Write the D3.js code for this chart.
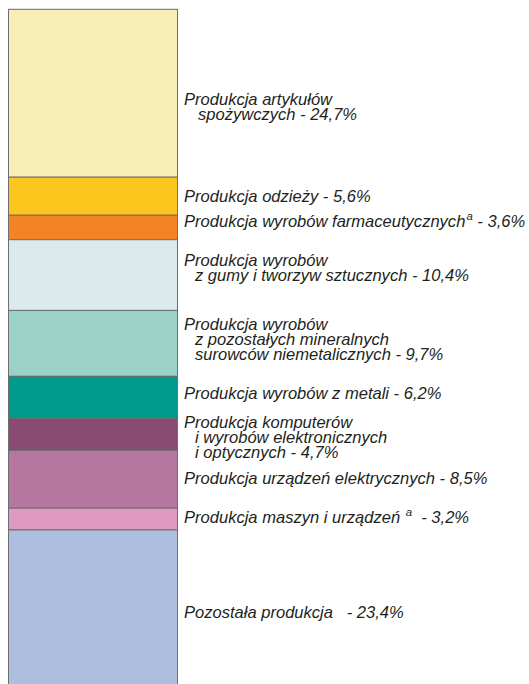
<!DOCTYPE html>
<html>
<head>
<meta charset="utf-8">
<script src="https://cdnjs.cloudflare.com/ajax/libs/d3/7.8.5/d3.min.js"></script>
<style>
  body { margin: 0; background: #fff; }
  svg { display: block; }
  text { font-family: "Liberation Sans", Arial, sans-serif; font-style: italic; fill: #231f20; }
</style>
</head>
<body>
<div id="chart"></div>
<script>
// data
var categories = [
  ["Produkcja artykułów", "  spożywczych - 24,7%"],
  ["Produkcja odzieży - 5,6%"],
  ["Produkcja wyrobów farmaceutycznych{a} - 3,6%"],
  ["Produkcja wyrobów", " z gumy i tworzyw sztucznych - 10,4%"],
  ["Produkcja wyrobów", " z pozostałych mineralnych", " surowców niemetalicznych - 9,7%"],
  ["Produkcja wyrobów z metali - 6,2%"],
  ["Produkcja komputerów", " i wyrobów elektronicznych", " i optycznych - 4,7%"],
  ["Produkcja urządzeń elektrycznych - 8,5%"],
  ["Produkcja maszyn i urządzeń {a}  - 3,2%"],
  ["Pozostała produkcja   - 23,4%"]
];
var shares = [24.7, 5.6, 3.6, 10.4, 9.7, 6.2, 4.7, 8.5, 3.2, 23.4];
var colors = ["#f8eeb6", "#fcc61e", "#f38425", "#dbeaea", "#9ad2c7", "#009b8d",
              "#8b4a73", "#b5779f", "#dd99c0", "#adbedf"];

// label offset from segment middle (layout)
var labelDy = [12, 5.5, -0.5, -9.5, -13, 1.5, -6.5, 4.5, 4, 9];

var width = 529, height = 684;
var svg = d3.select("#chart").append("svg")
    .attr("width", width)
    .attr("height", height);

var cum = d3.cumsum(shares);
var segs = shares.map(function(v, i) {
  return { v: v, y0: cum[i] - v, y1: cum[i], lines: categories[i], color: colors[i], dy: labelDy[i] };
});

var y = d3.scaleLinear().domain([0, 100]).range([9.3, 689]);
var x0 = 8.5, x1 = 177.5;

svg.selectAll("rect.seg")
  .data(segs)
  .enter().append("rect")
    .attr("class", "seg")
    .attr("x", x0)
    .attr("y", function(d) { return y(d.y0); })
    .attr("width", x1 - x0)
    .attr("height", function(d) { return y(d.y1) - y(d.y0); })
    .attr("fill", function(d) { return d.color; })
    .attr("stroke", "#6d6e70")
    .attr("stroke-width", 1);

var lineH = 15, sx = 1.035;
var labels = svg.selectAll("text.lab")
  .data(segs)
  .enter().append("text")
    .attr("class", "lab")
    .attr("transform", function(d) {
      return "translate(184," + ((y(d.y0) + y(d.y1)) / 2 + d.dy) + ") scale(" + sx + ",1)";
    })
    .style("font-size", "16px")
    .attr("xml:space", "preserve");

labels.each(function(d) {
  var t = d3.select(this);
  d.lines.forEach(function(line, k) {
    var parts = line.split("{a}");
    var lead = line.match(/^ */)[0].length;
    parts.forEach(function(p, j) {
      var ts = t.append("tspan").text(j == 0 ? p.replace(/^ +/, "") : p);
      if (j == 0) {
        ts.attr("x", lead ? (11 + (lead - 1) * 3) / sx : 0).attr("dy", k == 0 ? 0 : lineH);
      }
      if (j > 0) {
        ts.attr("dy", 7);
      }
      if (j < parts.length - 1) {
        t.append("tspan").text("a")
          .style("font-size", "11px")
          .attr("dx", 1)
          .attr("dy", -7);
      }
    });
  });
});
</script>
</body>
</html>
